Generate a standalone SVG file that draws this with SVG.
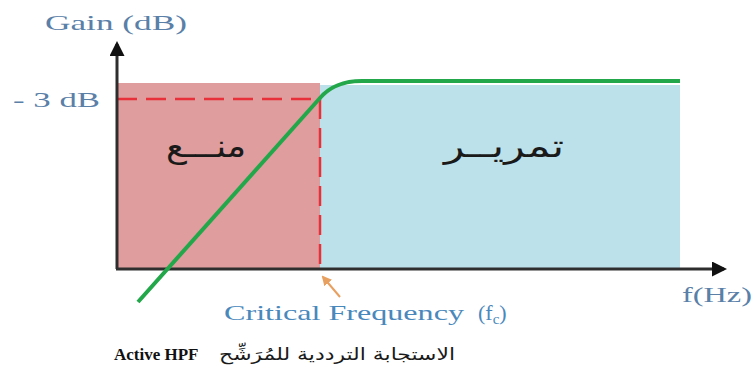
<svg xmlns="http://www.w3.org/2000/svg" width="754" height="381" viewBox="0 0 754 381">
  <style>
    .lbl { font-family: "Liberation Serif", "Times New Roman", serif; fill: #5a80a8; }
    .ar { font-family: "DejaVu Sans", "Noto Sans", sans-serif; fill: #1a1a1a; }
    .axis { stroke: #2e2e2e; stroke-width: 3; fill: none; }
    .cut { stroke: #e8303a; stroke-width: 2.5; stroke-dasharray: 20 9; fill: none; }
  </style>
  <defs>
    <marker id="axHead" viewBox="0 0 10 10" refX="8" refY="5" markerWidth="5" markerHeight="5" orient="auto" markerUnits="strokeWidth">
      <path d="M0,0 L10,5 L0,10 Z" fill="#111"/>
    </marker>
    <marker id="ptrHead" viewBox="0 0 10 10" refX="8" refY="5" markerWidth="5" markerHeight="5" orient="auto" markerUnits="strokeWidth">
      <path d="M0,0 L10,5 L0,10 Z" fill="#e8a060"/>
    </marker>
  </defs>

  <rect width="754" height="381" fill="#ffffff"/>

  <!-- stop band and pass band regions -->
  <g id="stopband">
    <rect x="117" y="83" width="203" height="186" fill="#df9d9d"/>
    <text class="ar" x="166" y="157" font-size="32" textLength="80" lengthAdjust="spacingAndGlyphs">منـــع</text>
  </g>
  <g id="passband">
    <rect x="320" y="85" width="360" height="184" fill="#bde1ea"/>
    <text class="ar" x="444" y="157" font-size="32" textLength="120" lengthAdjust="spacingAndGlyphs">تمريــر</text>
  </g>

  <!-- axes, cut-off markers and response curve -->
  <g id="connectors">
    <path class="cut" d="M117,99 H320 V270"/>
    <path class="axis" d="M117,269 V44" marker-end="url(#axHead)"/>
    <path class="axis" d="M116,269 H724" marker-end="url(#axHead)"/>
    <path d="M138,302 L320,98 C327,90 338,81 362,81 L680,81" fill="none" stroke="#22a84a" stroke-width="4"/>
    <path d="M340,297 L323,277" fill="none" stroke="#e8a060" stroke-width="2" marker-end="url(#ptrHead)"/>
  </g>

  <!-- axis labels -->
  <g id="labels">
    <text class="lbl" x="45" y="30" font-size="22" textLength="142" lengthAdjust="spacingAndGlyphs">Gain (dB)</text>
    <text class="lbl" x="13" y="107" font-size="22" textLength="87" lengthAdjust="spacingAndGlyphs">- 3 dB</text>
    <text class="lbl" x="682" y="302" font-size="20" textLength="70" lengthAdjust="spacingAndGlyphs">f(Hz)</text>
    <text class="lbl" x="224" y="320" font-size="22" style="fill:#4a88bc"><tspan textLength="240" lengthAdjust="spacingAndGlyphs">Critical Frequency</tspan><tspan x="478">(f</tspan><tspan font-size="15" dy="4">c</tspan><tspan dy="-4">)</tspan></text>
  </g>

  <!-- caption -->
  <g id="caption">
    <text x="114" y="360" font-size="17" font-weight="bold" font-family="Liberation Serif, serif" fill="#111">Active HPF</text>
    <text class="ar" x="455" y="360" font-size="17" text-anchor="end" textLength="236" lengthAdjust="spacingAndGlyphs">الاستجابة الترددية للمُرَشِّح</text>
  </g>
</svg>
